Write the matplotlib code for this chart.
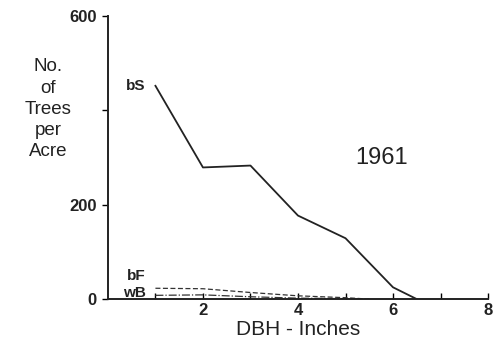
import matplotlib
matplotlib.use("Agg")
import matplotlib.pyplot as plt

dbh_bs = [1, 2, 3, 4, 5, 6, 6.5]
bs = [452, 279, 283, 177, 129, 25, 0]
dbh_bf = [1, 2, 3, 4, 5, 5.5]
bf = [23, 22, 14, 7, 3, 0]
dbh_wb = [1, 2, 3, 4, 5, 5.5]
wb = [8, 9, 5, 2, 1, 0]
xticks = [2, 4, 6, 8]
yticks = [0, 200, 600]

plt.rcParams['font.family'] = ['Liberation Sans', 'DejaVu Sans']
fig = plt.figure(figsize=(4.95, 3.47), dpi=100)
ax = fig.add_axes([0.218, 0.138, 0.768, 0.816])
ax.plot(dbh_bs, bs, color='#222222', lw=1.3)
ax.plot(dbh_bf, bf, color='#333333', lw=0.9, ls=(0, (4, 2)))
ax.plot(dbh_wb, wb, color='#333333', lw=0.9, ls='-.')
ax.set_xlim(0, 8)
ax.set_ylim(0, 600)
for s in ['top', 'right']:
    ax.spines[s].set_visible(False)
for s in ['left', 'bottom']:
    ax.spines[s].set_linewidth(1.4)
    ax.spines[s].set_color('#222222')
ax.set_xticks(range(1, 9))
ax.set_xticklabels(['' if t not in xticks else str(t) for t in range(1, 9)],
                   fontsize=12, fontweight='bold', color='#222222')
ax.tick_params(axis='x', direction='in', length=4, width=1, pad=3)
ax.set_yticks([0, 200, 400, 600])
ax.set_yticklabels([str(t) if t in yticks else '' for t in [0, 200, 400, 600]],
                   fontsize=12, fontweight='bold', color='#222222')
ax.tick_params(axis='y', direction='out', length=4, width=1, pad=4)

ax.set_xlabel('DBH - Inches', fontsize=15, color='#222222', labelpad=1)
fig.text(0.097, 0.685, 'No.\nof\nTrees\nper\nAcre', ha='center', va='center',
         fontsize=13.5, color='#222222', linespacing=1.32)
lab = dict(ha='right', va='center', fontsize=11, fontweight='bold', color='#222222')
ax.text(0.8, 452, 'bS', **lab)
ax.text(0.8, 50, 'bF', **lab)
ax.text(0.8, 12, 'wB', **lab)
ax.text(5.2, 298, '1961', ha='left', va='center', fontsize=17, color='#222222')
fig.savefig('out.png', dpi=100)
